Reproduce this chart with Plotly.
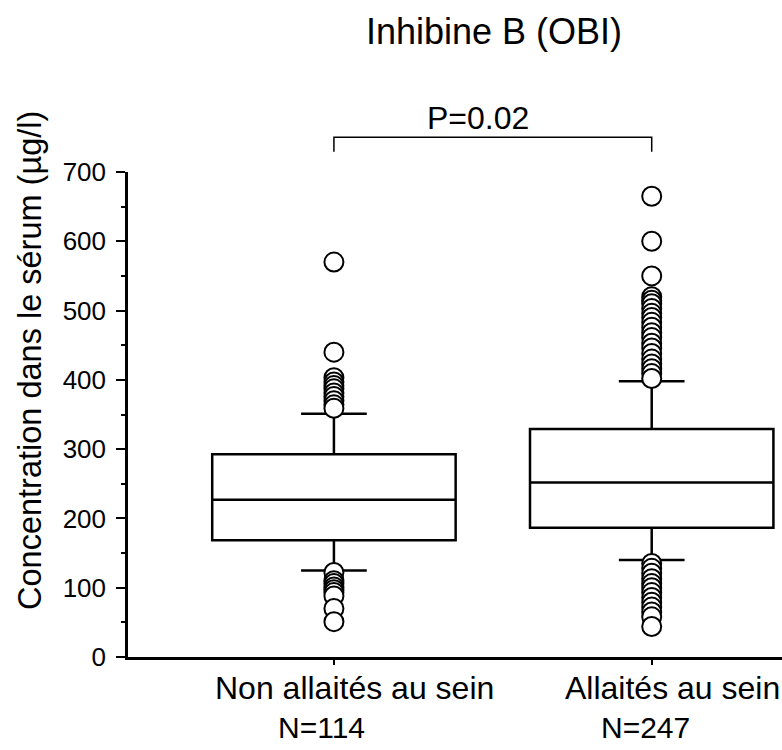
import plotly.graph_objects as go

categories = ["Non allaités au sein", "Allaités au sein"]
n_labels = ["N=114", "N=247"]
positions = [0, 1]

q1 = [168.5, 186.5]
median = [227, 252]
q3 = [292.5, 329]
lower_whisker = [125, 140]
upper_whisker = [351, 398]

outliers_non = [570, 440, 403, 397, 392, 387, 381, 376, 370, 364, 359,
                122, 110, 106, 101, 97, 93, 88, 70, 51]
outliers_allaites = [665, 600, 550, 520, 515, 510, 503, 496, 490, 483, 476, 468,
                     461, 453, 446, 438, 430, 423, 416, 409, 402,
                     135, 128, 121, 113, 106, 100, 93, 86, 79, 72, 65, 58, 44]

title_text = "Inhibine B (OBI)"
y_title = "Concentration dans le sérum (µg/l)"
p_text = "P=0.02"

FONT = "Liberation Sans, Arial, sans-serif"

fig = go.Figure()
for i, pos in enumerate(positions):
    fig.add_trace(go.Box(
        x=[pos], q1=[q1[i]], median=[median[i]], q3=[q3[i]],
        lowerfence=[lower_whisker[i]], upperfence=[upper_whisker[i]],
        width=0.766, whiskerwidth=0.27, boxpoints=False,
        fillcolor="white", line=dict(color="black", width=2.5),
        showlegend=False, hoverinfo="skip",
    ))

for pos, vals in zip(positions, [outliers_non, outliers_allaites]):
    fig.add_trace(go.Scatter(
        x=[pos] * len(vals), y=vals, mode="markers",
        marker=dict(symbol="circle", size=19, color="white",
                    line=dict(color="black", width=2)),
        showlegend=False, hoverinfo="skip", cliponaxis=False,
    ))

plot_top, plot_bottom, plot_left = 172.3, 656.7, 128
plot_h = plot_bottom - plot_top
plot_w = 782 - plot_left

fig.update_layout(
    width=782, height=750,
    margin=dict(l=plot_left, r=0, t=plot_top, b=750 - plot_bottom, pad=0),
    plot_bgcolor="white", paper_bgcolor="white",
    font=dict(family=FONT, color="black", size=26),
    title=dict(text=title_text, x=494 / 782, xanchor="center",
               y=1 - 31 / 750, yanchor="middle",
               font=dict(size=36, family=FONT, color="black")),
    xaxis=dict(range=[-0.648, 1.41], showgrid=False, zeroline=False,
               showline=True, linecolor="black", linewidth=2.5,
               tickvals=positions, ticktext=["", ""], ticks="outside",
               ticklen=5, tickwidth=2, tickcolor="black"),
    yaxis=dict(range=[0, 700], showgrid=False, zeroline=False,
               showline=True, linecolor="black", linewidth=2.5,
               tickvals=[0, 100, 200, 300, 400, 500, 600, 700],
               ticks="outside", ticklen=9, tickwidth=2, tickcolor="black",
               ticklabelstandoff=5,
               tickfont=dict(size=26, family=FONT, color="black"),
               minor=dict(dtick=50, ticks="outside", ticklen=4, tickwidth=2,
                          tickcolor="black", showgrid=False)),
)

# y axis title
fig.add_annotation(text=y_title, xref="paper", yref="paper",
                   x=(30 - plot_left) / plot_w, y=(plot_bottom - 361) / plot_h,
                   xanchor="center", yanchor="middle", textangle=-90,
                   showarrow=False, font=dict(size=32.5, family=FONT, color="black"))

# category labels
for pos, cat, nl, sh1, sh2 in zip(positions, categories, n_labels, [21, 21], [-12, -6]):
    fig.add_annotation(text=cat, xref="x", yref="paper", x=pos, xshift=sh1,
                       y=(plot_bottom - 688) / plot_h, xanchor="center", yanchor="middle",
                       showarrow=False, font=dict(size=32, family=FONT, color="black"))
    fig.add_annotation(text=nl, xref="x", yref="paper", x=pos, xshift=sh2,
                       y=(plot_bottom - 727) / plot_h, xanchor="center", yanchor="middle",
                       showarrow=False, font=dict(size=30, family=FONT, color="black"))

# significance bracket
yb_top = (plot_bottom - 137.5) / plot_h
yb_bot = (plot_bottom - 152) / plot_h
fig.add_shape(type="path", xref="x", yref="paper",
              path=f"M {positions[0]},{yb_bot} L {positions[0]},{yb_top} L {positions[1]},{yb_top} L {positions[1]},{yb_bot}",
              line=dict(color="black", width=1.5))
fig.add_annotation(text=p_text, xref="paper", yref="paper",
                   x=(478 - plot_left) / plot_w, y=(plot_bottom - 118) / plot_h,
                   xanchor="center", yanchor="middle", showarrow=False,
                   font=dict(size=32, family=FONT, color="black"))

fig.write_html("out.html")
